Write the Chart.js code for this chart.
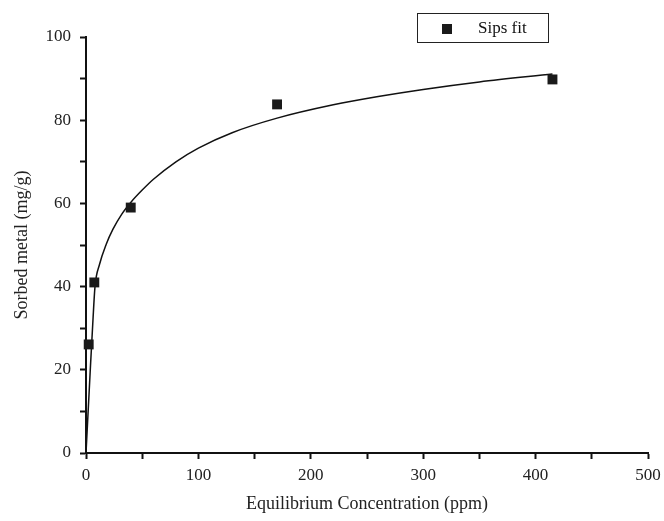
<!DOCTYPE html>
<html>
<head>
<meta charset="utf-8">
<script src="https://cdn.jsdelivr.net/npm/chart.js@4"></script>
<style>
  html, body { margin: 0; padding: 0; background: #fff; }
  #wrap { width: 664px; height: 521px; }
</style>
</head>
<body>
<div id="wrap"><canvas id="chart" width="664" height="521"></canvas></div>
<script>
// measured points
let concX = [2.4, 7.4, 39.8, 170, 415];
let sorbedY = [26.1, 41.0, 59.0, 83.8, 89.8];

// fitted curve
let fitX = [0, 2, 4, 6, 8, 12, 18, 24, 32, 40, 50, 60, 80, 100, 130, 170, 220, 260, 300, 350, 415];
let fitY = [0, 10.5, 21, 31, 40, 45.3, 50.2, 53.8, 57.5, 60.3, 63.2, 65.8, 70, 73.3, 77, 80.5, 83.7, 85.7, 87.4, 89.2, 91.1];

let legendText = "Sips fit";
let xTitle = "Equilibrium Concentration (ppm)";
let yTitle = "Sorbed metal (mg/g)";

const serif = "'Liberation Serif', 'Times New Roman', serif";

const legendBox = {
    id: 'legendBox',
    afterDraw(c) {
        let ctx = c.ctx;
        ctx.save();
        ctx.strokeStyle = '#222';
        ctx.lineWidth = 1;
        ctx.strokeRect(417.5, 13.5, 131, 29);
        ctx.fillStyle = '#1a1a1a';
        ctx.fillRect(442, 24, 10, 10);
        ctx.font = '17px ' + serif;
        ctx.textBaseline = 'middle';
        ctx.fillStyle = '#111';
        ctx.fillText(legendText, 478, 29);
        ctx.restore();
    }
};

let chart = new Chart(document.getElementById("chart"), {
    type: 'scatter',
    data: {
        datasets: [
            {
                label: "Sips fit",
                data: concX.map((x, i) => ({x: x, y: sorbedY[i]})),
                pointStyle: 'rect',
                pointRadius: 7,
                backgroundColor: '#1a1a1a',
                borderColor: '#1a1a1a',
                borderWidth: 0,
                clip: false
            },
            {
                label: "fit",
                type: 'line',
                data: fitX.map((x, i) => ({x: x, y: fitY[i]})),
                borderColor: '#111',
                borderWidth: 1.5,
                pointRadius: 0,
                cubicInterpolationMode: 'monotone',
                fill: false
            }
        ]
    },
    options: {
        responsive: false,
        animation: false,
        layout: { padding: { left: 0, top: 37, right: 16, bottom: 0 } },
        plugins: { legend: { display: false }, tooltip: { enabled: false } },
        scales: {
            x: {
                type: 'linear',
                min: 0, max: 500,
                afterFit: s => { s.height = 68; s.paddingRight = 0; s.paddingLeft = 0; },
                border: { display: true, color: '#111', width: 2 },
                grid: { drawOnChartArea: false, tickLength: 6, tickWidth: 2, tickColor: '#111' },
                ticks: {
                    stepSize: 50,
                    padding: 6,
                    color: '#222',
                    font: { family: serif, size: 17 },
                    maxRotation: 0,
                    autoSkip: false,
                    callback: v => (v % 100 === 0 ? v : '')
                },
                title: { display: true, text: xTitle, color: '#222', font: { family: serif, size: 18 }, padding: { bottom: 6 } }
            },
            y: {
                min: 0, max: 100,
                afterFit: s => { s.width = 86; },
                border: { display: true, color: '#111', width: 2 },
                grid: { drawOnChartArea: false, tickLength: 6, tickWidth: 2, tickColor: '#111' },
                ticks: {
                    stepSize: 10,
                    padding: 9,
                    color: '#222',
                    font: { family: serif, size: 17 },
                    autoSkip: false,
                    callback: v => (v % 20 === 0 ? v : '')
                },
                title: { display: true, text: yTitle, color: '#222', font: { family: serif, size: 18 }, padding: { top: 11 } }
            }
        }
    },
    plugins: [legendBox]
});
</script>
</body>
</html>
